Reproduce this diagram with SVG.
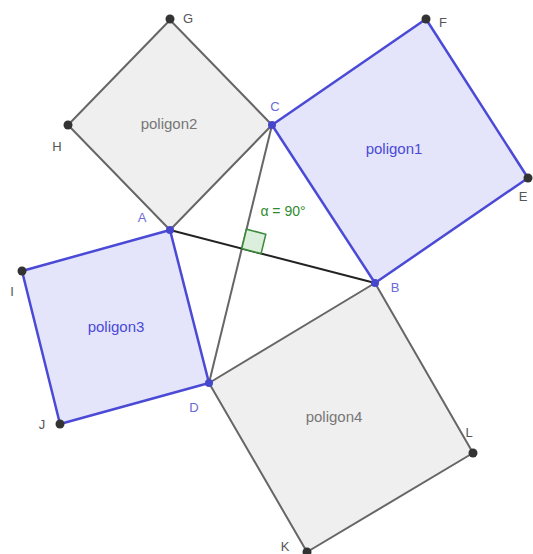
<svg xmlns="http://www.w3.org/2000/svg" width="533" height="554" viewBox="0 0 533 554">
<style>
.blue{fill:#e4e4fa;stroke:#4a4ad6;stroke-width:2.5;stroke-linejoin:round}
.gray{fill:#efefef;stroke:#666;stroke-width:2;stroke-linejoin:round}
.plabel{font-family:"Liberation Sans",Arial,sans-serif;font-size:15px;text-anchor:middle}
.pb{fill:#4a4ad6}
.pg{fill:#777}
.lbl{font-family:"Liberation Sans",Arial,sans-serif;font-size:13px;text-anchor:middle}
.lb{fill:#6a6ad8}
.ld{fill:#555}
.ptd{fill:#333}
.ptb{fill:#4646cc}
</style>
<rect width="533" height="554" fill="#ffffff"/>
<g id="poligon2"><polygon class="gray" points="170,230 68,125 170,20 272,125"/><text class="plabel pg" x="169" y="129">poligon2</text></g>
<g id="poligon4"><polygon class="gray" points="209,383 375,283 473,453 307,552"/><text class="plabel pg" x="334" y="422">poligon4</text></g>
<g id="poligon1"><polygon class="blue" points="272,125 426,19 528,178 375,283"/><text class="plabel pb" x="394" y="154">poligon1</text></g>
<g id="poligon3"><polygon class="blue" points="170,230 22,271 60,424 209,383"/><text class="plabel pb" x="116" y="332">poligon3</text></g>
<g id="connectors">
<line x1="272" y1="125" x2="209" y2="383" stroke="#666" stroke-width="2"/>
<line x1="170" y1="230" x2="375" y2="283" stroke="#222" stroke-width="2"/>
<polygon points="241.8,248.6 246.5,229.2 265.8,234.2 261.1,253.6" fill="#dcefdc" stroke="#3a8a3a" stroke-width="1.5"/>
</g>
<g id="angle"><text x="283" y="216" font-family="Liberation Sans,Arial,sans-serif" font-size="14" fill="#2e8b2e" text-anchor="middle">α = 90°</text></g>
<g id="points">
<circle class="ptd" cx="170" cy="19" r="4.5"/><text class="lbl ld" x="188" y="23">G</text>
<circle class="ptd" cx="68" cy="125" r="4.5"/><text class="lbl ld" x="57" y="151">H</text>
<circle class="ptd" cx="426" cy="19" r="4.5"/><text class="lbl ld" x="443" y="27">F</text>
<circle class="ptd" cx="528" cy="178" r="4.5"/><text class="lbl ld" x="523" y="201">E</text>
<circle class="ptd" cx="22" cy="271" r="4.5"/><text class="lbl ld" x="12" y="296">I</text>
<circle class="ptd" cx="60" cy="424" r="4.5"/><text class="lbl ld" x="42" y="429">J</text>
<circle class="ptd" cx="473" cy="453" r="4.5"/><text class="lbl ld" x="469" y="437">L</text>
<circle class="ptd" cx="307" cy="552" r="4.5"/><text class="lbl ld" x="285" y="551">K</text>
<circle class="ptb" cx="272" cy="125" r="4"/><text class="lbl lb" x="275" y="111">C</text>
<circle class="ptb" cx="170" cy="230" r="4"/><text class="lbl lb" x="142" y="222">A</text>
<circle class="ptb" cx="375" cy="283" r="4"/><text class="lbl lb" x="395" y="292">B</text>
<circle class="ptb" cx="209" cy="383" r="4"/><text class="lbl lb" x="194" y="412">D</text>
</g>
</svg>
